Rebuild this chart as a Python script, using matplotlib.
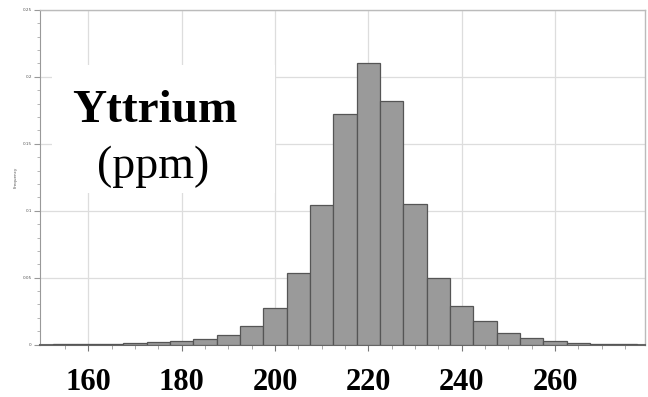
import matplotlib
matplotlib.use("Agg")
import matplotlib.pyplot as plt
import numpy as np
from matplotlib.patches import Rectangle

# histogram of Yttrium (ppm), bin centres and relative frequencies
bin_centers = [155, 160, 165, 170, 175, 180, 185, 190, 195, 200, 205, 210, 215,
               220, 225, 230, 235, 240, 245, 250, 255, 260, 265, 270, 275]
freq = [0.0004, 0.0005, 0.0007, 0.0013, 0.002, 0.0028, 0.0045, 0.0075, 0.0136,
        0.027, 0.0537, 0.1045, 0.172, 0.2107, 0.182, 0.105, 0.0496, 0.029,
        0.0173, 0.0084, 0.0046, 0.0026, 0.0013, 0.0006, 0.0003]
x_ticks = [160, 180, 200, 220, 240, 260]
y_ticks = [0, 0.05, 0.1, 0.15, 0.2, 0.25]
y_labels = ["0", "0.05", "0.1", "0.15", "0.2", "0.25"]

fig = plt.figure(figsize=(6.48, 3.97), dpi=100)
ax = fig.add_axes([0.062, 0.132, 0.933, 0.843])

ax.bar(bin_centers, freq, width=5, color="#9a9a9a", edgecolor="#555555",
       linewidth=0.9, zorder=3)

ax.set_xlim(149.7, 279.2)
ax.set_ylim(0, 0.25)

ax.set_xticks(x_ticks)
ax.set_xticklabels([str(t) for t in x_ticks], fontfamily="Liberation Serif",
                   fontweight="bold", fontsize=22)
ax.set_xticks(np.arange(155, 280, 5), minor=True)
ax.set_yticks(y_ticks)
ax.set_yticklabels(y_labels, fontsize=3, color="#555555")
ax.set_yticks(np.arange(0, 0.251, 0.01), minor=True)

ax.tick_params(axis="x", which="major", length=4, pad=12.5, color="#777777")
ax.tick_params(axis="x", which="minor", length=3, color="#999999")
ax.tick_params(axis="y", which="major", length=4, pad=2, color="#999999")
ax.tick_params(axis="y", which="minor", length=2, color="#aaaaaa")

ax.grid(True, which="major", color="#dddddd", linewidth=0.9, zorder=0)
ax.set_axisbelow(True)

for s in ["top", "right"]:
    ax.spines[s].set_color("#bbbbbb")
    ax.spines[s].set_linewidth(1.0)
ax.spines["left"].set_color("#999999")
ax.spines["bottom"].set_color("#666666")
ax.spines["bottom"].set_linewidth(1.5)

ax.set_ylabel("Frequency", fontsize=3, color="#555555", labelpad=4)

# white label box with element name
ax.add_patch(Rectangle((0.02, 0.452), 0.368, 0.382, transform=ax.transAxes,
                       facecolor="white", edgecolor="none", zorder=2))
ax.text(0.19, 0.664, "Yttrium", transform=ax.transAxes, ha="center",
        va="baseline", fontfamily="Liberation Serif", fontweight="bold",
        fontsize=34, zorder=4)
ax.text(0.1876, 0.497, "(ppm)", transform=ax.transAxes, ha="center",
        va="baseline", fontfamily="Liberation Serif", fontsize=33, zorder=4)

fig.savefig("out.png", dpi=100)
